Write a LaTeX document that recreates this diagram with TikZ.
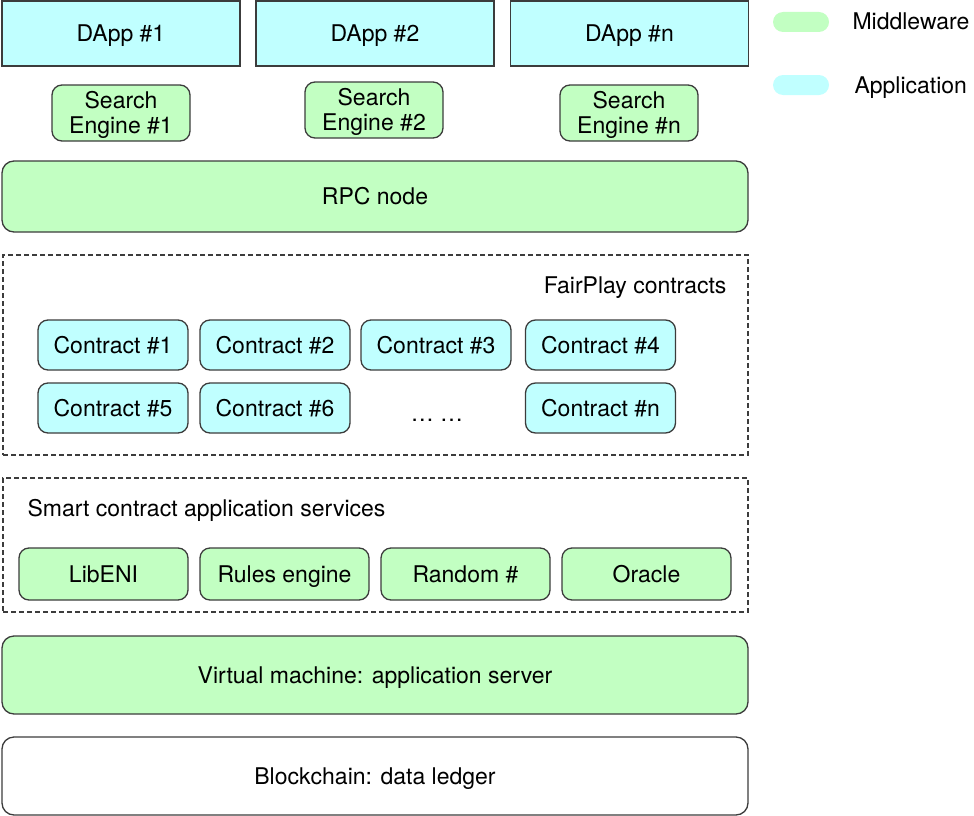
\documentclass[tikz,border=0pt]{standalone}
\usepackage{fontspec}
\setmainfont{TeX Gyre Heros}
\definecolor{mwgreen}{RGB}{194,255,194}
\definecolor{appcyan}{RGB}{192,255,255}
\definecolor{edge}{RGB}{60,60,60}
\tikzset{
    box/.style={draw=edge, line width=1.3pt, inner sep=0pt, align=center, text height=16.5pt, text depth=0pt},
    dapp/.style={box, fill=appcyan, minimum width=238pt, minimum height=65pt},
    engine/.style={box, fill=mwgreen, rounded corners=10pt, minimum width=138pt, minimum height=56pt, text height=41.5pt},
    layer/.style={box, rounded corners=12pt, minimum width=746pt},
    contract/.style={box, fill=appcyan, rounded corners=10pt, minimum width=150pt, minimum height=50pt},
    service/.style={box, fill=mwgreen, rounded corners=10pt, minimum width=169pt, minimum height=52pt},
    group/.style={draw=edge, line width=1.2pt, dash pattern=on 5pt off 3pt, inner sep=0pt, minimum width=745pt},
    pill/.style={rounded corners=10pt, minimum width=56pt, minimum height=20pt, inner sep=0pt}
}
\begin{document}
\begin{tikzpicture}[x=1pt,y=-1pt,font=\fontsize{23}{25}\selectfont]
    \useasboundingbox (0,0) rectangle (974,816);
    % applications and their search engines
    \foreach \x/\n in {121/1,375/2,629.5/n}
        \node[dapp] (dapp\n) at (\x,33.5) {DApp \#\n};
    \foreach \x/\y/\n in {121/113/1,374/110/2,629/113/n}
        \node[engine] (engine\n) at (\x,\y) {Search\\Engine \#\n};
    \node[layer, fill=mwgreen, minimum height=71pt] (rpc) at (375,196.5) {RPC node};
    % contracts
    \node[group, minimum height=200pt] (fairplay) at (375.5,355) {};
    \node[anchor=base east] (fairplaylabel) at (730,293) {FairPlay contracts};
    \foreach \x/\n in {113/1,275/2,436/3,600.5/4}
        \node[contract] (contract\n) at (\x,345) {Contract \#\n};
    \foreach \x/\n in {113/5,275/6,600.5/n}
        \node[contract] (contract\n) at (\x,408) {Contract \#\n};
    \node[anchor=base] (moredots) at (437,421) {\dots\ \dots};
    % services
    \node[group, minimum height=134pt] (services) at (375.5,545) {};
    \node[anchor=base west] (serviceslabel) at (24,516) {Smart contract application services};
    \foreach \x/\name/\txt in {103.5/libeni/LibENI,284.5/rules/Rules engine,465.5/random/Random \#,646.5/oracle/Oracle}
        \node[service] (\name) at (\x,574) {\txt};
    \node[layer, fill=mwgreen, minimum height=78pt] (vm) at (375,675) {Virtual machine: application server};
    \node[layer, fill=white, minimum height=78pt] (chain) at (375,776) {Blockchain: data ledger};
    % legend
    \node[pill, fill=mwgreen] (mwkey) at (801,22) {};
    \node[anchor=base west] (mwtext) at (849,30) {Middleware};
    \node[pill, fill=appcyan] (appkey) at (801,85) {};
    \node[anchor=base west] (apptext) at (851,93) {Application};
\end{tikzpicture}
\end{document}
